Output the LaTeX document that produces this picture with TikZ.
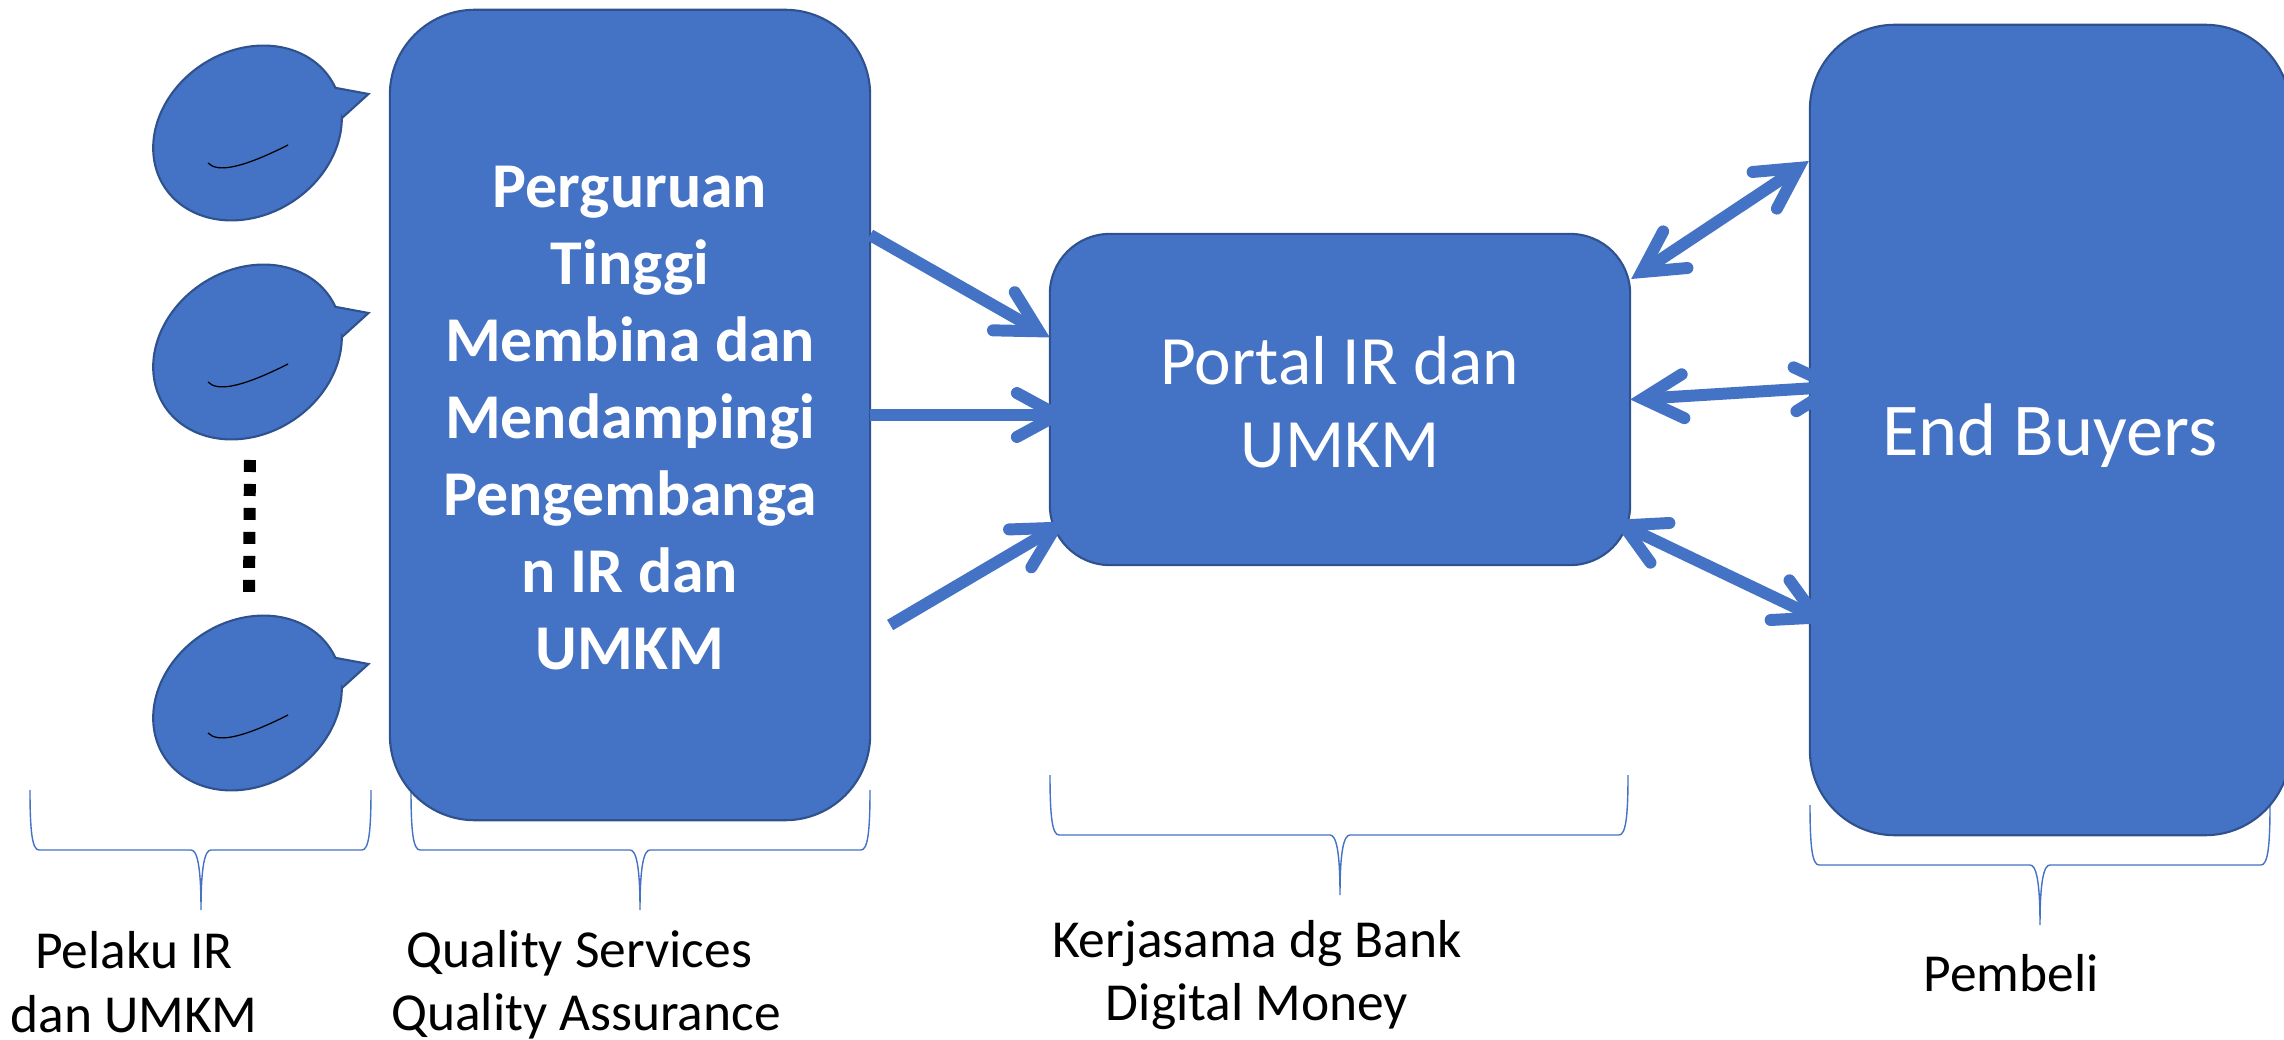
\documentclass[tikz,border=0pt]{standalone}
\usepackage{fontspec}
\setmainfont{Carlito}
\usetikzlibrary{arrows.meta,calc}
\definecolor{officeblue}{HTML}{4472C4}
\definecolor{officeline}{HTML}{2F528F}
\tikzset{
    bluebox/.style={draw=officeline, fill=officeblue, line width=0.6pt, rectangle, outer sep=0pt, text=white, align=center},
    bluearrow/.style={officeblue, line width=3.4pt, -{Straight Barb[length=11.5pt,width=12.5pt,line cap=round,line join=miter]}},
    bluedouble/.style={officeblue, line width=3.4pt, {Straight Barb[length=11.5pt,width=12.5pt,line cap=round,line join=miter]}-{Straight Barb[length=11.5pt,width=12.5pt,line cap=round,line join=miter]}},
    bracketline/.style={officeblue, line width=0.4pt},
    caption/.style={align=center, text=black, font=\fontsize{15.2}{18}\selectfont}
}
\newcommand{\speechblob}[2]{
    \filldraw[officeline, fill=officeblue, line width=0.6pt, shift={(#1,#2)}]
        (121,-39) -- (94.5,-15) -- plot[domain=28:367, samples=80, smooth]
        ({99*cos(\x)*0.839+82*sin(\x)*0.545},{-99*cos(\x)*0.545+82*sin(\x)*0.839}) -- cycle;
    \draw[black, line width=0.35pt, shift={(#1,#2)}] (-39.5,30) .. controls (-30,40) and (-5,35) .. (40.5,12);
}
\newcommand{\bracket}[5]{
    \draw[bracketline] (#1,#4) .. controls (#1,#4+40) and (#1+2,#4+60) .. (#1+9,#4+60) -- (#3-10,#4+60)
        .. controls (#3-4,#4+60) and (#3,#4+75) .. (#3,#5) .. controls (#3,#4+75) and (#3+4,#4+60) .. (#3+10,#4+60)
        -- (#2-9,#4+60) .. controls (#2-2,#4+60) and (#2,#4+40) .. (#2,#4);
}
\begin{document}
\begin{tikzpicture}[x=0.01cm, y=-0.01cm]
    \useasboundingbox (0,0) rectangle (2284,1040);
    \bracket{30}{371}{201}{790}{910}
    \bracket{411}{870}{640}{790}{910}
    \bracket{1050}{1628}{1340}{775}{895}
    \bracket{1810}{2270}{2040}{805}{925}
    \speechblob{247.5}{133}
    \speechblob{247.5}{352}
    \speechblob{247.5}{703}
    \draw[black, line width=3.41pt, dash pattern=on 3.41pt off 3.41pt] (250,460) -- (249,592);
    \node[bluebox, minimum width=4.8cm, minimum height=8.1cm, rounded corners=0.85cm, font=\fontsize{18.15}{21.9}\selectfont\bfseries] (college) at (630,415)
        {\rule{0pt}{13.4pt}Perguruan\\ Tinggi\\ Membina dan\\ Mendampingi\\ Pengembanga\\ n IR dan\\ UMKM};
    \node[bluebox, minimum width=5.8cm, minimum height=3.31cm, rounded corners=0.6cm, font=\fontsize{19.7}{23.6}\selectfont] (portal) at (1340,399.5)
        {\rule{0pt}{15.3pt}Portal IR dan\\ UMKM};
    \node[bluebox, minimum width=4.8cm, minimum height=8.1cm, rounded corners=0.85cm, font=\fontsize{21.2}{25}\selectfont] (buyers) at (2050,430)
        {\raisebox{-7.2pt}[0pt][0pt]{End Buyers}};
    \draw[bluearrow] ($(college.east)+(0,-180)$) -- ($(portal.west)+(0,-62)$);
    \draw[bluearrow] (college.east) -- ($(portal.west)+(20,15.5)$);
    \draw[bluearrow] ($(college.east)+(20,210)$) -- ($(portal.west)+(16,122)$);
    \draw[bluedouble] ($(portal.east)+(1,-120.5)$) -- ($(buyers.west)+(-1,-269)$);
    \draw[bluedouble] (portal.east) -- ($(buyers.west)+(38,-44)$);
    \draw[bluedouble] ($(portal.east)+(-18,120.5)$) -- ($(buyers.west)+(18,193)$);
    \node[caption] (doers) at (134,982) {Pelaku IR\\ dan UMKM};
    \node[caption] (quality) at (586,985) {Quality Services\hspace*{3.7pt}\\ Quality Assurance};
    \node[caption] (bank) at (1257,975) {Kerjasama dg Bank\\ Digital Money};
    \node[caption] (buyer) at (2011,973) {Pembeli};
\end{tikzpicture}
\end{document}
